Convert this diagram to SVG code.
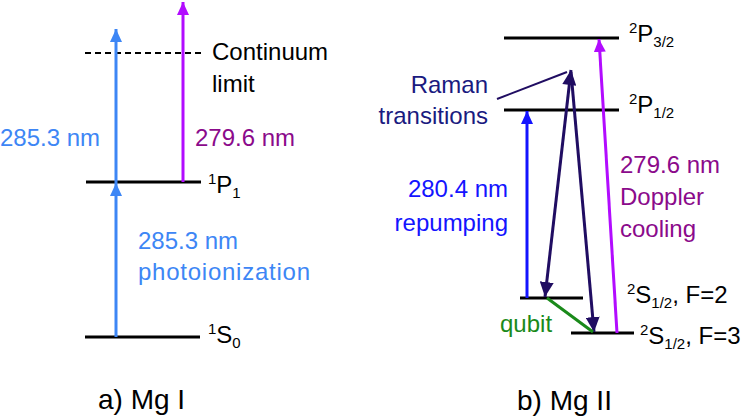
<svg xmlns="http://www.w3.org/2000/svg" width="747" height="419" viewBox="0 0 747 419">
<style>
text{font-family:"Liberation Sans",Arial,sans-serif;font-size:24px;fill:#000}
.sm{font-size:15px}
.title{font-size:28px}
.lvl{stroke:#000;stroke-width:3;fill:none}
.ar{fill:none;stroke-width:3}
</style>
<defs>
<marker id="hLB" markerUnits="userSpaceOnUse" markerWidth="14" markerHeight="12" refX="13" refY="6" orient="auto"><path d="M0,0 L13,6 L0,12 z" fill="#3d86f5"/></marker>
<marker id="hVi" markerUnits="userSpaceOnUse" markerWidth="14" markerHeight="12" refX="13" refY="6" orient="auto"><path d="M0,0 L13,6 L0,12 z" fill="#b20cff"/></marker>
<marker id="hB" markerUnits="userSpaceOnUse" markerWidth="14" markerHeight="12" refX="13" refY="6" orient="auto"><path d="M0,0 L13,6 L0,12 z" fill="#1414ff"/></marker>
<marker id="hN" markerUnits="userSpaceOnUse" markerWidth="16" markerHeight="14" refX="15" refY="7" orient="auto"><path d="M0,0 L15,7 L0,14 z" fill="#200d62"/></marker>
<marker id="hNs" markerUnits="userSpaceOnUse" markerWidth="16" markerHeight="14" refX="0" refY="7" orient="auto"><path d="M15,0 L0,7 L15,14 z" fill="#200d62"/></marker>
</defs>

<g id="panel-a">
<g id="continuum"><line x1="85" y1="53" x2="201" y2="53" stroke="#000" stroke-width="2" stroke-dasharray="6,4"/>
<text x="212" y="60">Continuum</text><text x="212" y="92">limit</text></g>
<g id="P1"><line class="lvl" x1="86" y1="182" x2="201" y2="182"/>
<text x="208" y="193"><tspan class="sm" dy="-9">1</tspan><tspan dy="9">P</tspan><tspan class="sm" dy="5">1</tspan></text></g>
<g id="S0"><line class="lvl" x1="85" y1="337" x2="200" y2="337"/>
<text x="208" y="343"><tspan class="sm" dy="-9">1</tspan><tspan dy="9">S</tspan><tspan class="sm" dy="5">0</tspan></text></g>
<g id="labels-a">
<text x="0" y="146" style="fill:#3d86f5">285.3 nm</text>
<text x="195" y="146" style="fill:#8b0a8b">279.6 nm</text>
<text x="138" y="249" style="fill:#3d86f5">285.3 nm</text>
<text x="138" y="280" style="fill:#3d86f5" textLength="172">photoionization</text>
<text x="98" y="409" class="title">a) Mg I</text>
</g>
</g>

<g id="panel-b">
<g id="P32"><line class="lvl" x1="504" y1="38" x2="619" y2="38"/>
<text x="629" y="42"><tspan class="sm" dy="-9">2</tspan><tspan dy="9">P</tspan><tspan class="sm" dy="5">3/2</tspan></text></g>
<g id="P12"><line class="lvl" x1="504" y1="110" x2="619" y2="110"/>
<text x="629" y="113"><tspan class="sm" dy="-9">2</tspan><tspan dy="9">P</tspan><tspan class="sm" dy="5">1/2</tspan></text></g>
<g id="S12F2"><line class="lvl" x1="520" y1="298" x2="583" y2="298"/>
<text x="627" y="303"><tspan class="sm" dy="-9">2</tspan><tspan dy="9">S</tspan><tspan class="sm" dy="5">1/2</tspan><tspan dy="-5">, F=2</tspan></text></g>
<g id="S12F3"><line class="lvl" x1="571" y1="333" x2="634" y2="333"/>
<text x="640" y="344"><tspan class="sm" dy="-9">2</tspan><tspan dy="9">S</tspan><tspan class="sm" dy="5">1/2</tspan><tspan dy="-5">, F=3</tspan></text></g>
<g id="labels-b">
<text x="488" y="93" text-anchor="end" style="fill:#1a1a80">Raman</text>
<text x="488" y="124" text-anchor="end" style="fill:#1a1a80">transitions</text>
<text x="508" y="197" text-anchor="end" style="fill:#1414ff">280.4 nm</text>
<text x="508" y="231" text-anchor="end" style="fill:#1414ff">repumping</text>
<text x="620" y="173" style="fill:#8b0a8b">279.6 nm</text>
<text x="620" y="205" style="fill:#8b0a8b">Doppler</text>
<text x="620" y="237" style="fill:#8b0a8b">cooling</text>
<text x="500" y="332" style="fill:#1a8a1a">qubit</text>
<text x="517" y="410" class="title">b) Mg II</text>
</g>
</g>

<g id="connectors">
<line class="ar" x1="116" y1="337" x2="116" y2="183" stroke="#3d86f5" marker-end="url(#hLB)"/>
<line class="ar" x1="116" y1="183" x2="116" y2="29" stroke="#3d86f5" marker-end="url(#hLB)"/>
<line class="ar" x1="183" y1="182" x2="183" y2="2" stroke="#b20cff" marker-end="url(#hVi)"/>
<line class="ar" x1="527" y1="298" x2="527" y2="111" stroke="#1414ff" marker-end="url(#hB)"/>
<line class="ar" x1="617" y1="333" x2="599" y2="39" stroke="#b20cff" marker-end="url(#hVi)"/>
<line x1="497" y1="99" x2="567" y2="72" stroke="#200d62" stroke-width="2"/>
<line class="ar" x1="571" y1="70" x2="545" y2="297" stroke="#200d62" marker-start="url(#hNs)" marker-end="url(#hN)"/>
<line class="ar" x1="571" y1="72" x2="594" y2="332" stroke="#200d62" marker-end="url(#hN)"/>
<line x1="547" y1="298" x2="593" y2="332" stroke="#1a8a1a" stroke-width="3"/>
</g>
</svg>
